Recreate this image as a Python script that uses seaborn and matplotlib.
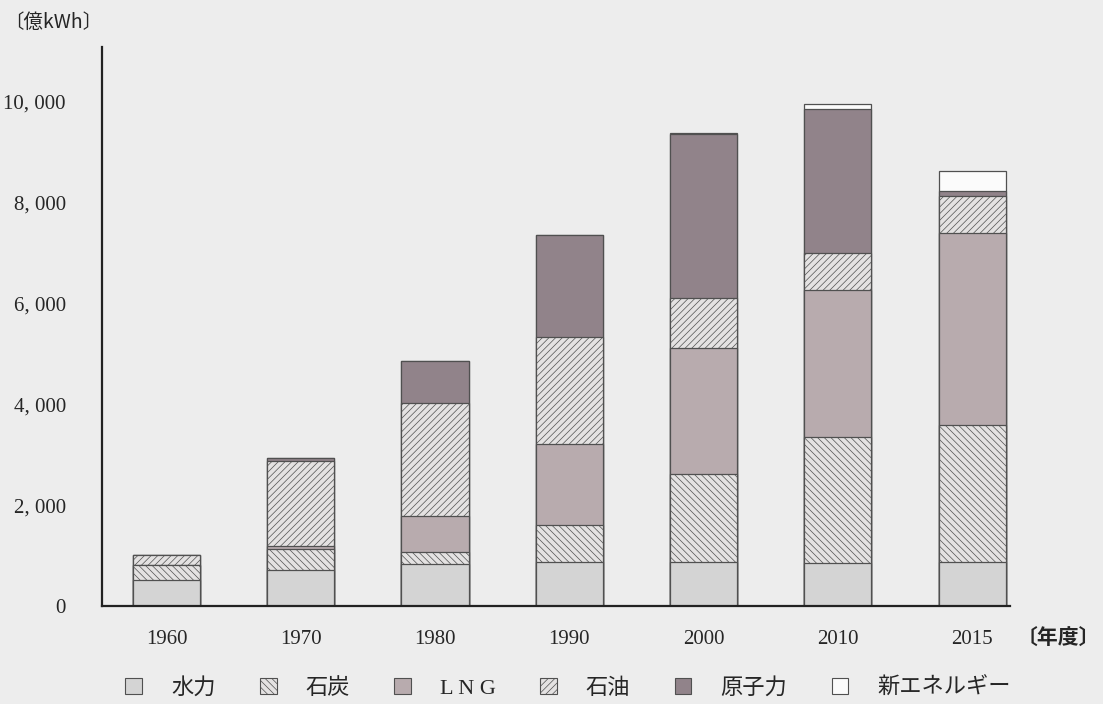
import numpy as np
import pandas as pd
import matplotlib
matplotlib.use('Agg')
import matplotlib.pyplot as plt
from matplotlib.patches import Patch
import seaborn as sns

# 発電電力量の推移 (億kWh)
years = ['1960', '1970', '1980', '1990', '2000', '2010', '2015']
hydro = [520, 710, 830, 870, 870, 860, 870]
coal = [290, 430, 240, 730, 1740, 2480, 2710]
lng = [0, 60, 710, 1620, 2500, 2930, 3800]
oil = [200, 1680, 2240, 2120, 990, 730, 750]
nuclear = [0, 50, 830, 2020, 3250, 2850, 95]
new_energy = [0, 0, 0, 0, 20, 100, 400]

labels = ['水力', '石炭', 'L N G', '石油', '原子力', '新エネルギー']
series = [hydro, coal, lng, oil, nuclear, new_energy]
colors = ['#d4d4d4', '#e4e2e2', '#b8abae', '#e4e2e2', '#91838a', '#fbfbfb']
hatches = ['', '\\\\\\\\\\', '', '/////', '', '']
y_ticks = [0, 2000, 4000, 6000, 8000, 10000]

sns.set_style('white')
plt.rcParams['font.family'] = ['Liberation Serif', 'Noto Sans CJK JP']
plt.rcParams['hatch.linewidth'] = 0.5

bg = '#ededed'
fig = plt.figure(figsize=(11.03, 7.04), dpi=100, facecolor=bg)
ax = fig.add_axes([0.0925, 0.139, 0.823, 0.794])
ax.set_facecolor(bg)

df = pd.DataFrame({lab: s for lab, s in zip(labels, series)}, index=years)
cum = df.cumsum(axis=1)

# 累積値を上の層から順に重ねて描く
for i in range(len(labels) - 1, -1, -1):
    sns.barplot(x=years, y=cum[labels[i]].values, color=colors[i], hatch=hatches[i],
                edgecolor='#505050', linewidth=0.9, width=0.5, saturation=1,
                errorbar=None, ax=ax)

ax.set_xlim(-0.48, 6.28)
ax.set_ylim(0, 11070)
ax.set_yticks(y_ticks)
ax.set_yticklabels([f'{v:,}'.replace(',', ', ') for v in y_ticks], fontsize=15)
ax.tick_params(axis='y', length=0, pad=26)
ax.tick_params(axis='x', length=0, pad=17, labelsize=15)
ax.set_xlabel('')
ax.set_ylabel('')

for side in ['top', 'right']:
    ax.spines[side].set_visible(False)
for side in ['left', 'bottom']:
    ax.spines[side].set_color('#222222')
    ax.spines[side].set_linewidth(1.6)

fig.text(0.004, 0.968, '〔億kWh〕', fontsize=14, family=['Noto Sans CJK JP'], va='center')
fig.text(0.922, 0.094, '〔年度〕', fontsize=15, family=['Noto Sans CJK JP'],
         fontweight='bold', va='center')

handles = [Patch(facecolor=c, edgecolor='#505050', hatch=h, linewidth=0.8)
           for c, h in zip(colors, hatches)]
fig.legend(handles, labels, loc='center', bbox_to_anchor=(0.515, 0.022), ncol=6,
           frameon=False, fontsize=16, handlelength=0.75, handleheight=0.75,
           handletextpad=1.3, columnspacing=2.0)

fig.savefig('out.png', dpi=100, facecolor=bg)
